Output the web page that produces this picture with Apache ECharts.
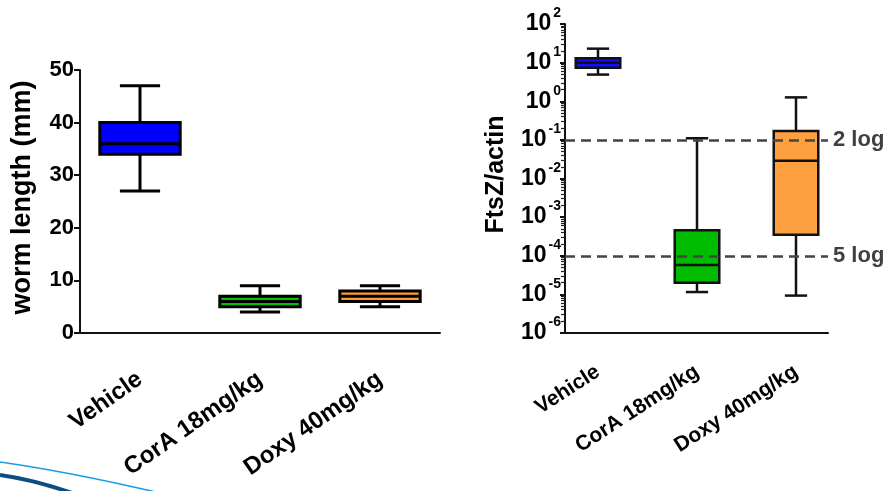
<!DOCTYPE html>
<html>
<head>
<meta charset="utf-8">
<script src="https://cdn.jsdelivr.net/npm/echarts@6/dist/echarts.min.js"></script>
<style>
  html, body { margin: 0; padding: 0; background: #fff; }
  #main { width: 892px; height: 491px; }
</style>
</head>
<body>
<div id="main"></div>
<script>
// groups on both panels
const groups = ['Vehicle', 'CorA 18mg/kg', 'Doxy 40mg/kg'];
// box values: min, q1, median, q3, max
const wormLength = [
  [27, 34, 36, 40, 47],
  [4, 5, 6, 7, 9],
  [5, 6, 7, 8, 9]
];
const ftsZActin = [
  [4.9, 7.4, 10, 13, 23],
  [1.15e-5, 2e-5, 5.8e-5, 4.6e-4, 0.11],
  [9.3e-6, 3.5e-4, 0.029, 0.17, 1.26]
];
const wormTicks = [0, 10, 20, 30, 40, 50];
const logDecades = [1e-6, 1e-5, 1e-4, 1e-3, 1e-2, 1e-1, 1, 10, 100];
const logLineValues = [0.1, 1e-4];
const logLineLabels = ['2 log', '5 log'];

const leftFills = ['#0000ff', '#00c000', '#ff9a30'];
const rightFills = ['#1010ff', '#00bb00', '#ffa040'];

// minor ticks 2..9 inside each decade
const minorValues = [];
logDecades.slice(0, -1).forEach(d => {
  for (let k = 2; k <= 9; k++) minorValues.push(d * k);
});

const chart = echarts.init(document.getElementById('main'));

// custom box: caps are half the box width
function boxRenderer(fills, ratio, lw, stroke) {
  return function (params, api) {
    const x = api.value(0);
    const p = [1, 2, 3, 4, 5].map(i => api.coord([x, api.value(i)]));
    const cx = p[0][0];
    const w = api.size([1, 0])[0] * ratio;
    const cap = w / 4;
    const ls = { stroke: stroke, lineWidth: lw };
    return {
      type: 'group',
      children: [
        { type: 'line', shape: { x1: cx, y1: p[4][1], x2: cx, y2: p[3][1] }, style: ls },
        { type: 'line', shape: { x1: cx, y1: p[1][1], x2: cx, y2: p[0][1] }, style: ls },
        { type: 'line', shape: { x1: cx - cap, y1: p[4][1], x2: cx + cap, y2: p[4][1] }, style: ls },
        { type: 'line', shape: { x1: cx - cap, y1: p[0][1], x2: cx + cap, y2: p[0][1] }, style: ls },
        { type: 'rect', shape: { x: cx - w / 2, y: p[3][1], width: w, height: p[1][1] - p[3][1] },
          style: { fill: fills[params.dataIndex], stroke: stroke, lineWidth: lw } },
        { type: 'line', shape: { x1: cx - w / 2, y1: p[2][1], x2: cx + w / 2, y2: p[2][1] }, style: ls }
      ]
    };
  };
}

const boldFont = { fontFamily: 'Liberation Sans', fontWeight: 'bold', color: '#000' };

const option = {
  backgroundColor: '#fff',
  animation: false,
  grid: [
    { left: 80, top: 70, width: 360, bottom: 158 },
    { left: 548.5, top: 24, width: 297, bottom: 158 },
    { left: 565, top: 24, width: 263, bottom: 158 }
  ],
  xAxis: [
    {
      type: 'category', gridIndex: 0, data: groups,
      axisLine: { lineStyle: { color: '#111', width: 2 } },
      axisTick: { alignWithLabel: true, length: 6, lineStyle: { color: '#111', width: 2 } },
      axisLabel: Object.assign({ rotate: 35, interval: 0, fontSize: 24, margin: 44 }, boldFont)
    },
    {
      type: 'category', gridIndex: 1, data: groups,
      axisLine: { show: false },
      axisTick: { alignWithLabel: true, length: 5, lineStyle: { color: '#111', width: 2 } },
      axisLabel: Object.assign({ rotate: 33, interval: 0, fontSize: 21, margin: 37 }, boldFont)
    },
    {
      type: 'value', gridIndex: 2, min: 0, max: 1,
      axisLine: { show: true, onZero: false, lineStyle: { color: '#111', width: 2 } },
      axisTick: { show: false }, axisLabel: { show: false }, splitLine: { show: false }
    }
  ],
  yAxis: [
    {
      type: 'value', gridIndex: 0, min: wormTicks[0], max: wormTicks[wormTicks.length - 1], interval: 10,
      name: 'worm length (mm)', nameLocation: 'middle', nameGap: 44,
      nameTextStyle: Object.assign({ fontSize: 27, padding: [0, 0, 0, 8] }, boldFont),
      axisLine: { show: true, lineStyle: { color: '#111', width: 2 } },
      axisTick: { show: true, length: 6, lineStyle: { color: '#111', width: 2 } },
      axisLabel: Object.assign({ fontSize: 22, margin: 6 }, boldFont),
      splitLine: { show: false }
    },
    {
      type: 'log', gridIndex: 1, position: 'left', min: 1e-6, max: 1e2, logBase: 10, offset: -16.5,
      name: 'FtsZ/actin', nameLocation: 'middle', nameGap: 56,
      nameTextStyle: Object.assign({ fontSize: 25, padding: [0, 0, 0, 8] }, boldFont),
      axisLine: { show: true, lineStyle: { color: '#111', width: 2 } },
      axisTick: { show: true, length: 5, lineStyle: { color: '#111', width: 2 } },
      splitLine: { show: false },
      axisLabel: {
        margin: 4,
        formatter: v => '{b|10}{s|' + Math.round(Math.log10(v)) + '}',
        rich: {
          b: Object.assign({ fontSize: 23, lineHeight: 35, verticalAlign: 'middle' }, boldFont),
          s: Object.assign({ fontSize: 14, lineHeight: 16, verticalAlign: 'top', padding: [0, 0, 0, 2] }, boldFont)
        }
      }
    },
    {
      // minor ticks only
      type: 'log', gridIndex: 1, position: 'left', min: 1e-6, max: 1e2, logBase: 10, offset: -16.5,
      axisLine: { show: true, lineStyle: { opacity: 0 } },
      axisTick: { show: true, length: 4, customValues: minorValues, lineStyle: { color: '#222', width: 1.2 } },
      axisLabel: { show: false },
      splitLine: { show: false }
    },
    {
      type: 'log', gridIndex: 2, min: 1e-6, max: 1e2, logBase: 10, show: false
    }
  ],
  series: [
    {
      type: 'custom', xAxisIndex: 0, yAxisIndex: 0,
      renderItem: boxRenderer(leftFills, 0.67, 3, '#000'),
      encode: { x: 0, y: [1, 2, 3, 4, 5] },
      data: wormLength.map((v, i) => [i].concat(v))
    },
    {
      type: 'line', xAxisIndex: 2, yAxisIndex: 3, data: [],
      markLine: {
        symbol: 'none', silent: true,
        lineStyle: { type: [10, 6], color: '#444', width: 2.5 },
        label: { position: 'end', distance: 5, fontSize: 22, fontWeight: 'bold', fontFamily: 'Liberation Sans', color: '#404040',
          formatter: p => p.name },
        data: logLineValues.map((v, i) => [
          { coord: [0, v], name: logLineLabels[i] },
          { coord: [1, v] }
        ])
      }
    },
    {
      type: 'custom', xAxisIndex: 1, yAxisIndex: 1,
      renderItem: boxRenderer(rightFills, 0.45, 2.5, '#111'),
      encode: { x: 0, y: [1, 2, 3, 4, 5] },
      data: ftsZActin.map((v, i) => [i].concat(v))
    }
  ],
  graphic: [
    { type: 'bezierCurve', silent: true,
      shape: { x1: 0, y1: 462, cpx1: 70, cpy1: 472, x2: 160, y2: 493 },
      style: { stroke: '#1b9ce2', lineWidth: 1.6, fill: null } },
    { type: 'bezierCurve', silent: true,
      shape: { x1: 0, y1: 475, cpx1: 35, cpy1: 480, x2: 75, y2: 494 },
      style: { stroke: '#0e4c86', lineWidth: 4, fill: null } }
  ]
};

chart.setOption(option);
</script>
</body>
</html>
